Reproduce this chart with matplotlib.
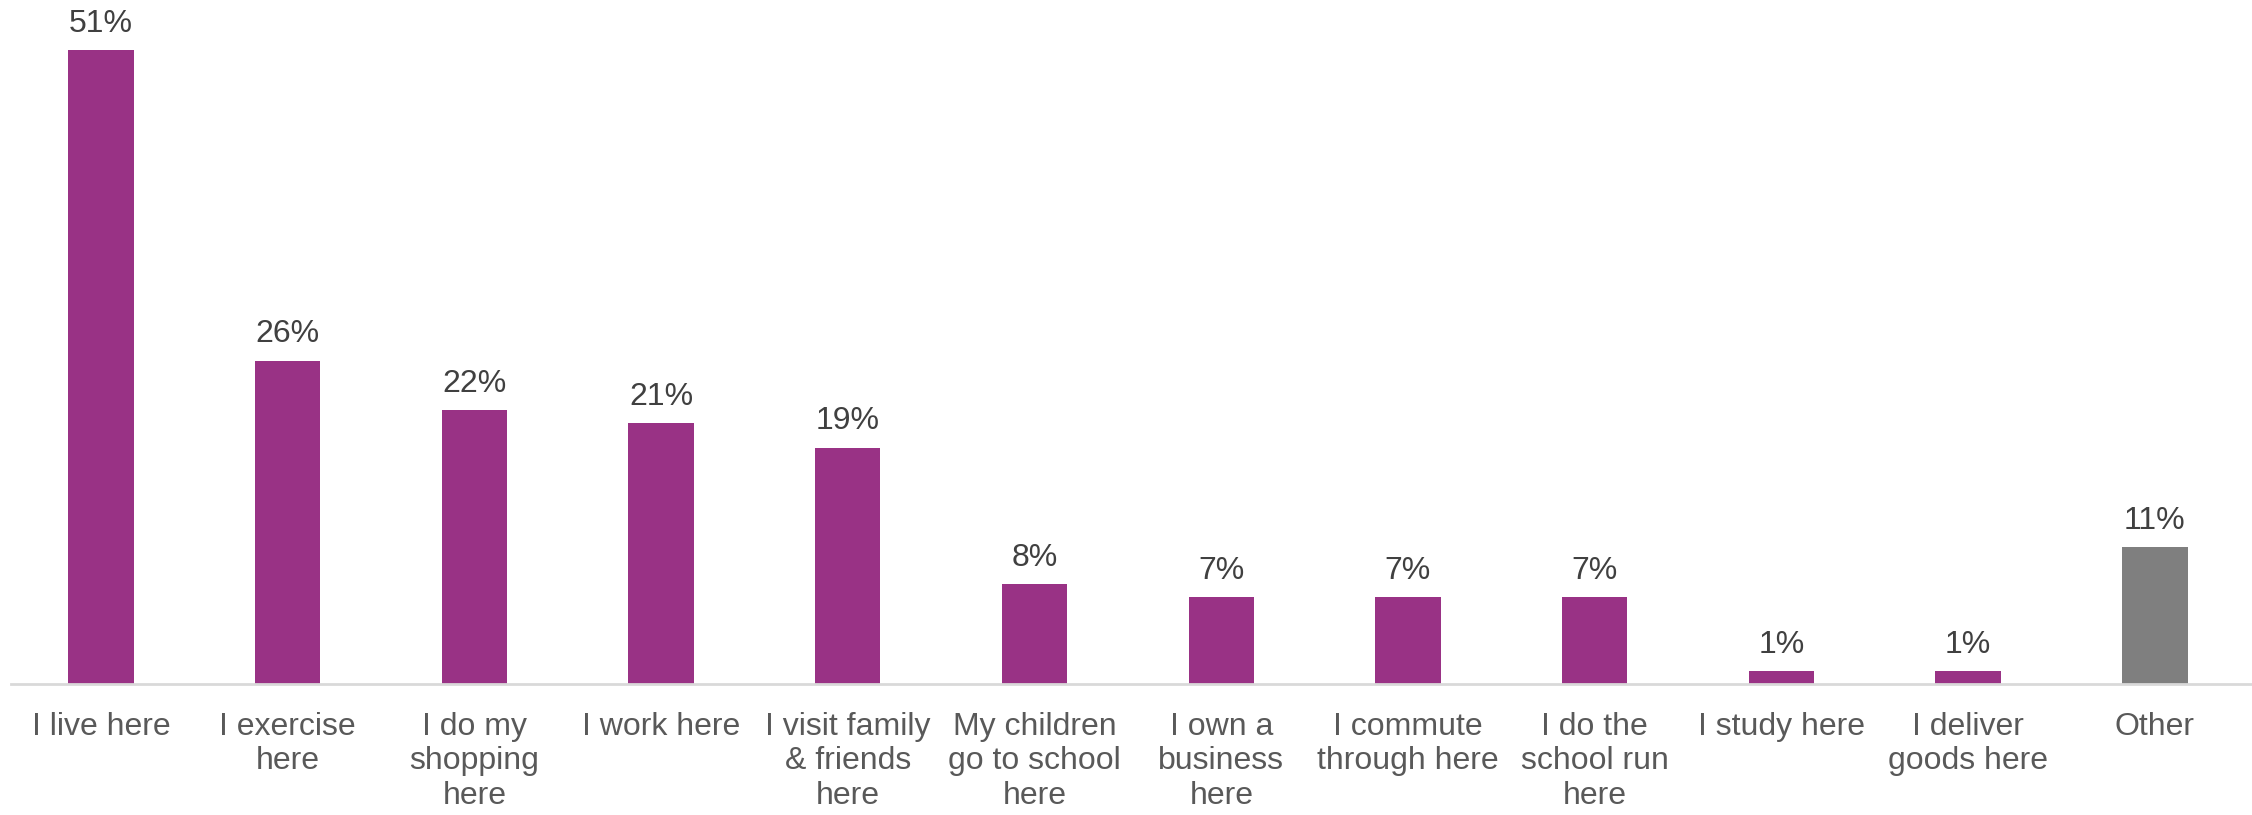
import matplotlib.pyplot as plt

plt.rcParams['font.family'] = ['Liberation Sans', 'DejaVu Sans']

categories = ["I live here", "I exercise\nhere", "I do my\nshopping\nhere", "I work here",
              "I visit family\n& friends\nhere", "My children\ngo to school\nhere",
              "I own a\nbusiness\nhere", "I commute\nthrough here", "I do the\nschool run\nhere",
              "I study here", "I deliver\ngoods here", "Other"]
values = [51, 26, 22, 21, 19, 8, 7, 7, 7, 1, 1, 11]
bar_colors = ["#993285"] * 11 + ["#7f7f7f"]

fig = plt.figure(figsize=(22.52, 8.15), dpi=100)
ax = fig.add_axes([0.005, 0.161, 0.995, 0.839])

x = list(range(len(categories)))
bars = ax.bar(x, values, width=0.35, color=bar_colors)
ax.bar_label(bars, labels=[f"{v}%" for v in values], padding=8,
             fontsize=23, color="#404040")

ax.set_xlim(-0.48, 11.52)
ax.set_ylim(0, 55.0)
ax.set_xticks(x)
ax.set_xticklabels(categories, fontsize=23, color="#595959", linespacing=1.2, va="top")
ax.tick_params(axis="x", length=0, pad=20)
ax.set_yticks([])

for side in ["top", "right", "left"]:
    ax.spines[side].set_visible(False)
ax.spines["bottom"].set_color("#d9d9d9")
ax.spines["bottom"].set_linewidth(2)

fig.savefig("out.png", dpi=100)
